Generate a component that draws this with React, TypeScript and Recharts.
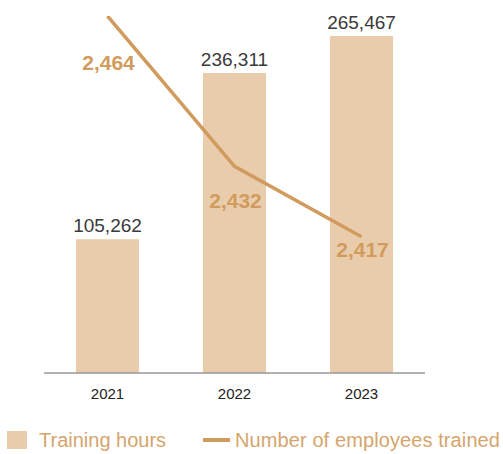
import { Bar, ComposedChart, LabelList, Legend, Line, XAxis, YAxis } from "recharts";

const years = ["2021", "2022", "2023"];
const trainingHours = [105262, 236311, 265467];
const employeesTrained = [2464, 2432, 2417];

const data = years.map((year, i) => ({
    year: year,
    hours: trainingHours[i],
    employees: employeesTrained[i],
}));

const BAR = "#e8ccab";
const LINE = "#d29b5e";
const FONT = "'Liberation Sans', Arial, Helvetica, sans-serif";

// the labels of the line sit at different distances below each point
const lineLabelDy = [46, 34, 13];

const fmt = (v: number) => v.toLocaleString("en-US");

function LineLabel(props: any) {
    const { x, y, value, index } = props;
    return <text x={x + 1} y={y + lineLabelDy[index]} textAnchor="middle" dominantBaseline="central"
                 fontFamily={FONT} fontSize={21} fontWeight="bold" fill={LINE}>
        {fmt(value)}
    </text>
}

function LegendBox() {
    return <div style={{ position: "relative", width: 503, height: 24, fontFamily: FONT, fontSize: 20, color: "#d5a56d" }}>
        <div style={{ position: "absolute", left: 7, top: 3, width: 20, height: 18, background: BAR }} />
        <span style={{ position: "absolute", left: 39, top: 0, lineHeight: "24px", whiteSpace: "nowrap" }}>Training hours</span>
        <div style={{ position: "absolute", left: 203, top: 10, width: 27, height: 4, background: LINE }} />
        <span style={{ position: "absolute", left: 235, top: 0, lineHeight: "24px", whiteSpace: "nowrap", letterSpacing: 0.1 }}>Number of employees trained</span>
    </div>
}

export default function App() {
    return <div style={{ position: "absolute", left: 0, top: 0, width: 503, height: 454, background: "#fff" }}>
        <ComposedChart width={503} height={454} data={data} margin={{ top: 16, right: 78, bottom: 27, left: 44 }}>
            <XAxis dataKey="year" axisLine={{ stroke: "#999", strokeWidth: 1.5 }} tickLine={false} tickMargin={9}
                   height={30} tick={{ fontSize: 15, fill: "#222", fontFamily: FONT }} />
            <YAxis yAxisId="hours" hide domain={[0, 281200]} />
            <YAxis yAxisId="emp" hide orientation="right" domain={[2388, 2464]} allowDataOverflow />
            <Legend verticalAlign="bottom" content={<LegendBox />} wrapperStyle={{ left: 0, bottom: 2, width: 503 }} />
            <Bar yAxisId="hours" dataKey="hours" name="Training hours" fill={BAR} barSize={63} isAnimationActive={false}>
                <LabelList dataKey="hours" position="top" offset={7} formatter={(v: any) => fmt(v)}
                           style={{ fontSize: 19, fill: "#3a3a3a", fontFamily: FONT }} />
            </Bar>
            <Line yAxisId="emp" dataKey="employees" name="Number of employees trained" stroke={LINE} strokeWidth={3.5}
                  dot={false} activeDot={false} isAnimationActive={false}>
                <LabelList dataKey="employees" content={<LineLabel />} />
            </Line>
        </ComposedChart>
    </div>
}
